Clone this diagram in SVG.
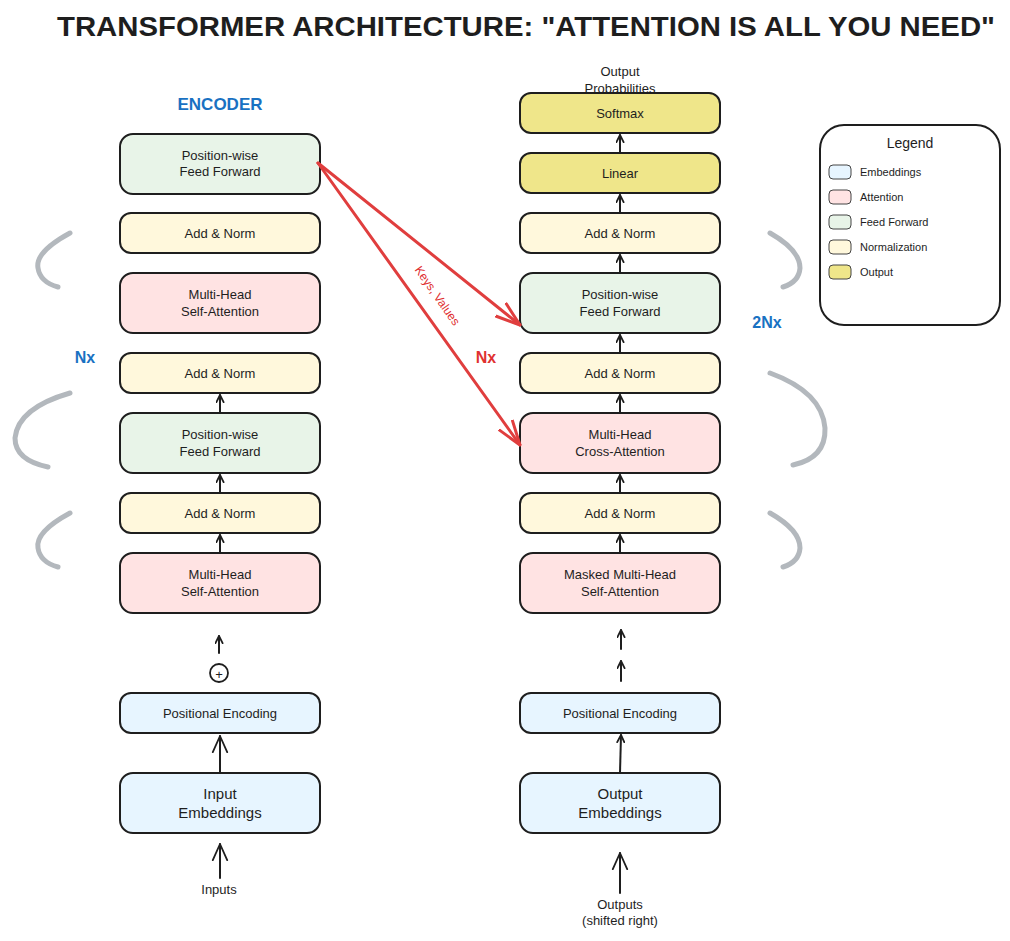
<svg xmlns="http://www.w3.org/2000/svg" width="1010" height="941" viewBox="0 0 1010 941">
<style>
  .box{stroke:#1e1e1e;stroke-width:2;}
  .emb{fill:#e7f5ff;}
  .att{fill:#ffe3e3;}
  .ff{fill:#e8f4e8;}
  .norm{fill:#fff8dc;}
  .out{fill:#efe68a;}
  .lbl{font-family:"Liberation Sans","Noto Sans",sans-serif;font-size:13px;fill:#1e1e1e;text-anchor:middle;}
  .big{font-size:15px;}
  .arr{stroke:#1e1e1e;stroke-width:2;fill:none;stroke-linecap:round;}
  .red{stroke:#e03e3e;stroke-width:3;fill:none;stroke-linecap:round;}
  .brk{stroke:#b3b8bd;stroke-width:5;fill:none;stroke-linecap:round;}
  .blue{font-family:"Liberation Sans","Noto Sans",sans-serif;fill:#1971c2;font-weight:bold;}
  .leg{font-family:"Liberation Sans","Noto Sans",sans-serif;font-size:11px;fill:#1e1e1e;}
</style>
<defs>
  <marker id="ah" viewBox="0 0 10 10" refX="9" refY="5" markerWidth="9" markerHeight="9" markerUnits="userSpaceOnUse" orient="auto">
    <path d="M1,1 L9,5 L1,9" fill="none" stroke="#1e1e1e" stroke-width="2" stroke-linecap="round" stroke-linejoin="round"/>
  </marker>
  <marker id="ahL" viewBox="0 0 20 20" refX="19" refY="10" markerWidth="18" markerHeight="18" markerUnits="userSpaceOnUse" orient="auto">
    <path d="M1,2 L19,10 L1,18" fill="none" stroke="#1e1e1e" stroke-width="2" stroke-linecap="round" stroke-linejoin="round"/>
  </marker>
  <marker id="ahR" viewBox="0 0 26 26" refX="25" refY="13" markerWidth="26" markerHeight="26" markerUnits="userSpaceOnUse" orient="auto">
    <path d="M1,5 L25,13 L1,21" fill="none" stroke="#e03e3e" stroke-width="3" stroke-linecap="round" stroke-linejoin="round"/>
  </marker>
</defs>
<rect width="1010" height="941" fill="#ffffff"/>

<text x="526" y="36" font-family="Liberation Sans Narrow, Liberation Sans, sans-serif" font-size="27" font-weight="bold" fill="#1e1e1e" text-anchor="middle" textLength="938" lengthAdjust="spacingAndGlyphs">TRANSFORMER ARCHITECTURE: "ATTENTION IS ALL YOU NEED"</text>

<text x="220" y="110" class="blue" font-size="17" text-anchor="middle">ENCODER</text>

<!-- brackets -->
<g id="brackets">
  <path class="brk" d="M70,233 Q35,252 38,268 Q40,282 58,287"/>
  <path class="brk" d="M70,393 Q18,408 15,438 Q15,460 48,467"/>
  <path class="brk" d="M70,513 Q35,532 38,548 Q40,562 58,567"/>
  <path class="brk" d="M770,233 Q800,250 800,268 Q799,282 783,287"/>
  <path class="brk" d="M770,373 Q822,392 825,428 Q826,458 793,465"/>
  <path class="brk" d="M770,513 Q800,530 800,548 Q799,562 783,567"/>
</g>

<g id="labels">
  <text x="85" y="363" class="blue" font-size="16" text-anchor="middle">Nx</text>
  <text x="767" y="328" class="blue" font-size="16" text-anchor="middle">2Nx</text>
  <text x="486" y="363" font-family="Liberation Sans, Noto Sans, sans-serif" font-size="16" font-weight="bold" fill="#e03131" text-anchor="middle">Nx</text>
  <text x="0" y="0" transform="translate(434,298) rotate(55)" font-family="Liberation Sans, Noto Sans, sans-serif" font-size="12" fill="#e03131" text-anchor="middle">Keys, Values</text>
  <text x="620" y="76" class="lbl">Output</text>
  <text x="620" y="93" class="lbl">Probabilities</text>
</g>

<!-- Encoder nodes -->
<g id="enc-ff2"><rect class="box ff" x="120" y="134" width="200" height="60" rx="13"/><text class="lbl" x="220" y="160">Position-wise</text><text class="lbl" x="220" y="176">Feed Forward</text></g>
<g id="enc-norm3"><rect class="box norm" x="120" y="213" width="200" height="40" rx="11"/><text class="lbl" x="220" y="238">Add &amp; Norm</text></g>
<g id="enc-mhsa2"><rect class="box att" x="120" y="273" width="200" height="60" rx="13"/><text class="lbl" x="220" y="299">Multi-Head</text><text class="lbl" x="220" y="316">Self-Attention</text></g>
<g id="enc-norm2"><rect class="box norm" x="120" y="353" width="200" height="40" rx="11"/><text class="lbl" x="220" y="378">Add &amp; Norm</text></g>
<g id="enc-ff1"><rect class="box ff" x="120" y="413" width="200" height="60" rx="13"/><text class="lbl" x="220" y="439">Position-wise</text><text class="lbl" x="220" y="456">Feed Forward</text></g>
<g id="enc-norm1"><rect class="box norm" x="120" y="493" width="200" height="40" rx="11"/><text class="lbl" x="220" y="518">Add &amp; Norm</text></g>
<g id="enc-mhsa1"><rect class="box att" x="120" y="553" width="200" height="60" rx="13"/><text class="lbl" x="220" y="579">Multi-Head</text><text class="lbl" x="220" y="596">Self-Attention</text></g>
<g id="enc-plus"><circle cx="219" cy="673" r="9" fill="#ffffff" stroke="#1e1e1e" stroke-width="1.8"/><text class="lbl" x="219" y="679" font-size="11">+</text></g>
<g id="enc-pe"><rect class="box emb" x="120" y="693" width="200" height="40" rx="11"/><text class="lbl" x="220" y="718">Positional Encoding</text></g>
<g id="enc-emb"><rect class="box emb" x="120" y="773" width="200" height="60" rx="13"/><text class="lbl big" x="220" y="799">Input</text><text class="lbl big" x="220" y="818">Embeddings</text></g>
<g id="enc-in"><text class="lbl" x="219" y="894">Inputs</text></g>

<!-- Decoder nodes -->
<g id="dec-softmax"><rect class="box out" x="520" y="93" width="200" height="40" rx="11"/><text class="lbl" x="620" y="118">Softmax</text></g>
<g id="dec-linear"><rect class="box out" x="520" y="153" width="200" height="40" rx="11"/><text class="lbl" x="620" y="178">Linear</text></g>
<g id="dec-norm3"><rect class="box norm" x="520" y="213" width="200" height="40" rx="11"/><text class="lbl" x="620" y="238">Add &amp; Norm</text></g>
<g id="dec-ff"><rect class="box ff" x="520" y="273" width="200" height="60" rx="13"/><text class="lbl" x="620" y="299">Position-wise</text><text class="lbl" x="620" y="316">Feed Forward</text></g>
<g id="dec-norm2"><rect class="box norm" x="520" y="353" width="200" height="40" rx="11"/><text class="lbl" x="620" y="378">Add &amp; Norm</text></g>
<g id="dec-cross"><rect class="box att" x="520" y="413" width="200" height="60" rx="13"/><text class="lbl" x="620" y="439">Multi-Head</text><text class="lbl" x="620" y="456">Cross-Attention</text></g>
<g id="dec-norm1"><rect class="box norm" x="520" y="493" width="200" height="40" rx="11"/><text class="lbl" x="620" y="518">Add &amp; Norm</text></g>
<g id="dec-mmhsa"><rect class="box att" x="520" y="553" width="200" height="60" rx="13"/><text class="lbl" x="620" y="579">Masked Multi-Head</text><text class="lbl" x="620" y="596">Self-Attention</text></g>
<g id="dec-pe"><rect class="box emb" x="520" y="693" width="200" height="40" rx="11"/><text class="lbl" x="620" y="718">Positional Encoding</text></g>
<g id="dec-emb"><rect class="box emb" x="520" y="773" width="200" height="60" rx="13"/><text class="lbl big" x="620" y="799">Output</text><text class="lbl big" x="620" y="818">Embeddings</text></g>
<g id="dec-in"><text class="lbl" x="620" y="909">Outputs</text><text class="lbl" x="620" y="925">(shifted right)</text></g>

<!-- Legend -->
<g id="legend">
  <rect x="820" y="125" width="180" height="200" rx="24" fill="#ffffff" stroke="#1e1e1e" stroke-width="2"/>
  <text x="910" y="148" font-family="Liberation Sans, Noto Sans, sans-serif" font-size="14" fill="#1e1e1e" text-anchor="middle">Legend</text>
  <rect class="emb" x="829" y="165" width="22" height="14" rx="4" stroke="#444" stroke-width="1"/><text class="leg" x="860" y="176">Embeddings</text>
  <rect class="att" x="829" y="190" width="22" height="14" rx="4" stroke="#444" stroke-width="1"/><text class="leg" x="860" y="201">Attention</text>
  <rect class="ff" x="829" y="215" width="22" height="14" rx="4" stroke="#444" stroke-width="1"/><text class="leg" x="860" y="226">Feed Forward</text>
  <rect class="norm" x="829" y="240" width="22" height="14" rx="4" stroke="#444" stroke-width="1"/><text class="leg" x="860" y="251">Normalization</text>
  <rect class="out" x="829" y="265" width="22" height="14" rx="4" stroke="#444" stroke-width="1"/><text class="leg" x="860" y="276">Output</text>
</g>

<!-- Connectors -->
<g id="connectors">
  <line class="arr" x1="220" y1="553" x2="220" y2="535" marker-end="url(#ah)"/>
  <line class="arr" x1="220" y1="493" x2="220" y2="475" marker-end="url(#ah)"/>
  <line class="arr" x1="220" y1="413" x2="220" y2="395" marker-end="url(#ah)"/>
  <line class="arr" x1="219" y1="653" x2="219" y2="636" marker-end="url(#ah)"/>
  <line class="arr" x1="220" y1="773" x2="220" y2="736" marker-end="url(#ahL)"/>
  <line class="arr" x1="220" y1="878" x2="220" y2="844" marker-end="url(#ahL)"/>

  <line class="arr" x1="620" y1="153" x2="620" y2="135" marker-end="url(#ah)"/>
  <line class="arr" x1="620" y1="213" x2="620" y2="195" marker-end="url(#ah)"/>
  <line class="arr" x1="620" y1="273" x2="620" y2="255" marker-end="url(#ah)"/>
  <line class="arr" x1="620" y1="353" x2="620" y2="335" marker-end="url(#ah)"/>
  <line class="arr" x1="620" y1="413" x2="620" y2="395" marker-end="url(#ah)"/>
  <line class="arr" x1="620" y1="493" x2="620" y2="475" marker-end="url(#ah)"/>
  <line class="arr" x1="620" y1="553" x2="620" y2="535" marker-end="url(#ah)"/>
  <line class="arr" x1="621" y1="649" x2="621" y2="630" marker-end="url(#ah)"/>
  <line class="arr" x1="621" y1="681" x2="621" y2="661" marker-end="url(#ah)"/>
  <line class="arr" x1="620" y1="773" x2="621" y2="735" marker-end="url(#ah)"/>
  <line class="arr" x1="620" y1="893" x2="620" y2="853" marker-end="url(#ahL)"/>

  <line class="red" x1="318" y1="163" x2="520" y2="325" marker-end="url(#ahR)"/>
  <line class="red" x1="318" y1="163" x2="520" y2="445" marker-end="url(#ahR)"/>
</g>
</svg>
